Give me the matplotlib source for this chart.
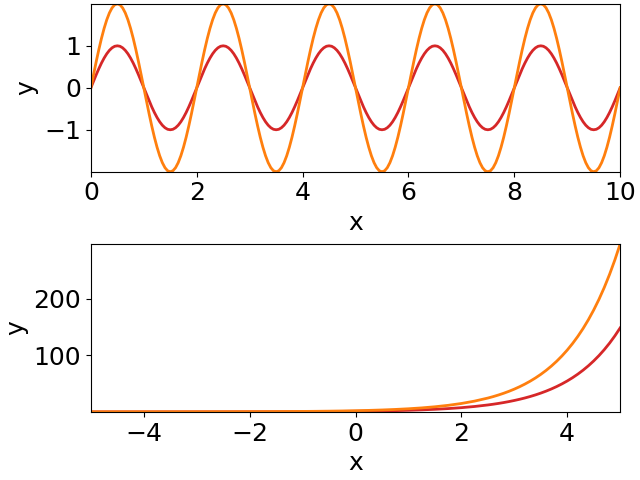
import numpy as np
import matplotlib
matplotlib.use("Agg")
import matplotlib.pyplot as plt

plt.rcParams["font.size"] = 18

# top panel: two waves sampled every 0.05 in x (0 .. 10)
x_wave = np.linspace(0, 10, 201)
wave_small = [
    0, .156, .309, .454, .588, .707, .809, .891, .951, .988, .999, .988, .951, .891, .809, .707, .588, .454, .309, .156,
    0, -.156, -.309, -.454, -.588, -.707, -.809, -.891, -.951, -.988, -.999, -.988, -.951, -.891, -.809, -.707, -.588, -.454, -.309, -.156,
    0, .156, .309, .454, .588, .707, .809, .891, .951, .988, .999, .988, .951, .891, .809, .707, .588, .454, .309, .156,
    0, -.156, -.309, -.454, -.588, -.707, -.809, -.891, -.951, -.988, -.999, -.988, -.951, -.891, -.809, -.707, -.588, -.454, -.309, -.156,
    0, .156, .309, .454, .588, .707, .809, .891, .951, .988, .999, .988, .951, .891, .809, .707, .588, .454, .309, .156,
    0, -.156, -.309, -.454, -.588, -.707, -.809, -.891, -.951, -.988, -.999, -.988, -.951, -.891, -.809, -.707, -.588, -.454, -.309, -.156,
    0, .156, .309, .454, .588, .707, .809, .891, .951, .988, .999, .988, .951, .891, .809, .707, .588, .454, .309, .156,
    0, -.156, -.309, -.454, -.588, -.707, -.809, -.891, -.951, -.988, -.999, -.988, -.951, -.891, -.809, -.707, -.588, -.454, -.309, -.156,
    0, .156, .309, .454, .588, .707, .809, .891, .951, .988, .999, .988, .951, .891, .809, .707, .588, .454, .309, .156,
    0, -.156, -.309, -.454, -.588, -.707, -.809, -.891, -.951, -.988, -.999, -.988, -.951, -.891, -.809, -.707, -.588, -.454, -.309, -.156,
    0,
]
wave_big = [
    0, .313, .618, .908, 1.176, 1.414, 1.618, 1.782, 1.902, 1.975, 1.998, 1.975, 1.902, 1.782, 1.618, 1.414, 1.176, .908, .618, .313,
    0, -.313, -.618, -.908, -1.176, -1.414, -1.618, -1.782, -1.902, -1.975, -1.998, -1.975, -1.902, -1.782, -1.618, -1.414, -1.176, -.908, -.618, -.313,
    0, .313, .618, .908, 1.176, 1.414, 1.618, 1.782, 1.902, 1.975, 1.998, 1.975, 1.902, 1.782, 1.618, 1.414, 1.176, .908, .618, .313,
    0, -.313, -.618, -.908, -1.176, -1.414, -1.618, -1.782, -1.902, -1.975, -1.998, -1.975, -1.902, -1.782, -1.618, -1.414, -1.176, -.908, -.618, -.313,
    0, .313, .618, .908, 1.176, 1.414, 1.618, 1.782, 1.902, 1.975, 1.998, 1.975, 1.902, 1.782, 1.618, 1.414, 1.176, .908, .618, .313,
    0, -.313, -.618, -.908, -1.176, -1.414, -1.618, -1.782, -1.902, -1.975, -1.998, -1.975, -1.902, -1.782, -1.618, -1.414, -1.176, -.908, -.618, -.313,
    0, .313, .618, .908, 1.176, 1.414, 1.618, 1.782, 1.902, 1.975, 1.998, 1.975, 1.902, 1.782, 1.618, 1.414, 1.176, .908, .618, .313,
    0, -.313, -.618, -.908, -1.176, -1.414, -1.618, -1.782, -1.902, -1.975, -1.998, -1.975, -1.902, -1.782, -1.618, -1.414, -1.176, -.908, -.618, -.313,
    0, .313, .618, .908, 1.176, 1.414, 1.618, 1.782, 1.902, 1.975, 1.998, 1.975, 1.902, 1.782, 1.618, 1.414, 1.176, .908, .618, .313,
    0, -.313, -.618, -.908, -1.176, -1.414, -1.618, -1.782, -1.902, -1.975, -1.998, -1.975, -1.902, -1.782, -1.618, -1.414, -1.176, -.908, -.618, -.313,
    0,
]

# bottom panel: growth curves, coarse on the flat part, finer where it climbs
x_growth = list(np.linspace(-5, 2.5, 31)) + list(np.linspace(2.6, 5.0, 25))
growth_small = [
    .0067, .0087, .0111, .0143, .0183, .0235, .0302, .0388, .0498, .0639,
    .0821, .1054, .1353, .1738, .2231, .2865, .3679, .4724, .6065, .7788,
    1.0, 1.284, 1.649, 2.117, 2.718, 3.490, 4.482, 5.755, 7.389, 9.488,
    12.18,
    13.46, 14.88, 16.44, 18.17, 20.09, 22.20, 24.53, 27.11, 29.96, 33.12,
    36.60, 40.45, 44.70, 49.40, 54.60, 60.34, 66.69, 73.70, 81.45, 90.02,
    99.48, 109.95, 121.51, 134.29, 148.41,
]
growth_big = [
    .0135, .0173, .0222, .0285, .0366, .0470, .0604, .0776, .0996, .1279,
    .1642, .2108, .2707, .3476, .4463, .5730, .7358, .9447, 1.213, 1.558,
    2.0, 2.568, 3.297, 4.234, 5.437, 6.981, 8.963, 11.51, 14.78, 18.98,
    24.36,
    26.92, 29.76, 32.89, 36.34, 40.17, 44.40, 49.07, 54.22, 59.92, 66.23,
    73.20, 80.90, 89.40, 98.81, 109.20, 120.68, 133.37, 147.40, 162.90, 180.03,
    198.96, 219.89, 243.03, 268.58, 296.83,
]

fig, (ax1, ax2) = plt.subplots(2, 1, figsize=(6.4, 4.8))

ax1.plot(x_wave, wave_small, color="tab:red", lw=2)
ax1.plot(x_wave, wave_big, color="tab:orange", lw=2)
ax1.margins(0)
ax1.set_xlabel("x")
ax1.set_ylabel("y")

ax2.plot(x_growth, growth_small, color="tab:red", lw=2)
ax2.plot(x_growth, growth_big, color="tab:orange", lw=2)
ax2.margins(0)
ax2.set_xlabel("x")
ax2.set_ylabel("y")

fig.subplots_adjust(left=0.142, right=0.969, top=0.992, bottom=0.142, hspace=0.43)
fig.savefig("out.png", dpi=100)
